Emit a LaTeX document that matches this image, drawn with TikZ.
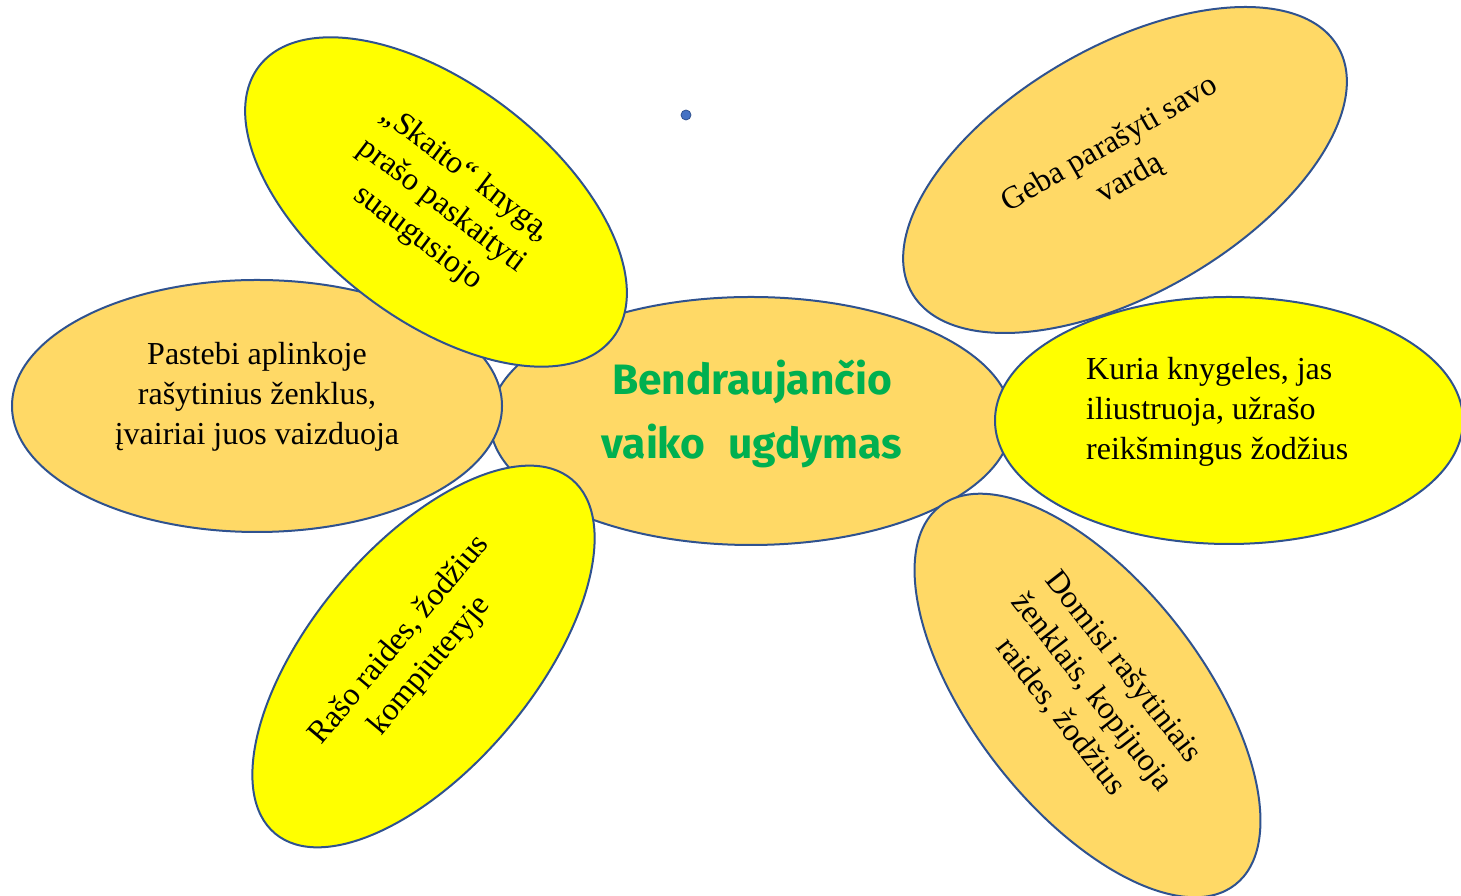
\documentclass[tikz,border=0pt]{standalone}
\usepackage{fontspec}
\setmainfont{Liberation Serif}
\newfontfamily\titlefont{Fira Sans}
\usetikzlibrary{shapes.geometric}
\definecolor{gold}{HTML}{FFD966}
\definecolor{yel}{HTML}{FFFF00}
\definecolor{edge}{HTML}{2F528F}
\definecolor{titlegreen}{HTML}{00B050}
\definecolor{dotblue}{HTML}{4472C4}
\tikzset{
  petal/.style={ellipse, draw=edge, line width=2pt, inner sep=0pt},
  goldpetal/.style={petal, fill=gold},
  yelpetal/.style={petal, fill=yel},
  txt/.style={align=center, inner sep=0pt, font=\fontsize{32}{40}\selectfont},
  title/.style={align=center, inner sep=0pt, text=titlegreen, font=\titlefont\bfseries\fontsize{42.5}{64}\selectfont}
}
\begin{document}
\begin{tikzpicture}[x=1pt,y=1pt]
\useasboundingbox (0,0) rectangle (1461,896);
\clip (0,0) rectangle (1461,896);
% centre
\node[goldpetal, minimum width=522pt, minimum height=248pt] (centre) at (751,475) {};
\node[title] (centretext) at (752,482) {Bendraujančio\\vaiko\hspace{0.3em} ugdymas};
% left
\node[goldpetal, minimum width=490pt, minimum height=252pt] (left) at (257,490) {};
\node[txt] (lefttext) at (257,499) {Pastebi aplinkoje\\rašytinius ženklus,\\įvairiai juos vaizduoja};
% top left
\node[yelpetal, minimum width=446pt, minimum height=235pt, rotate=-37.5] (topleft) at (436,694) {};
\node[txt, rotate=-37] (toplefttext) at (442,690) {„Skaito“ knygą,\\prašo paskaityti\\suaugusiojo};
% top right
\node[goldpetal, minimum width=492pt, minimum height=247pt, rotate=30] (topright) at (1125,726) {};
\node[txt, rotate=30] (toprighttext) at (1120,734) {Geba parašyti savo\\vardą};
% right
\node[yelpetal, minimum width=468pt, minimum height=247pt] (right) at (1229,475.5) {};
\node[txt, align=left, anchor=west] (righttext) at (1086,484) {Kuria knygeles, jas\\iliustruoja, užrašo\\reikšmingus žodžius};
% bottom left
\node[yelpetal, minimum width=462pt, minimum height=222pt, rotate=50] (bottomleft) at (423.5,239.5) {};
\node[txt, rotate=50] (bottomlefttext) at (415,243) {Rašo raides, žodžius\\kompiuteryje};
% bottom right
\node[goldpetal, minimum width=480pt, minimum height=228pt, rotate=-52] (bottomright) at (1087.5,200.5) {};
\node[txt, rotate=-52] (bottomrighttext) at (1092,204) {Domisi rašytiniais\\ženklais, kopijuoja\\raides, žodžius};
% dot
\node[circle, fill=dotblue, draw=edge, line width=0.8pt, minimum size=10pt, inner sep=0pt] (dot) at (686,781) {};
\end{tikzpicture}
\end{document}
